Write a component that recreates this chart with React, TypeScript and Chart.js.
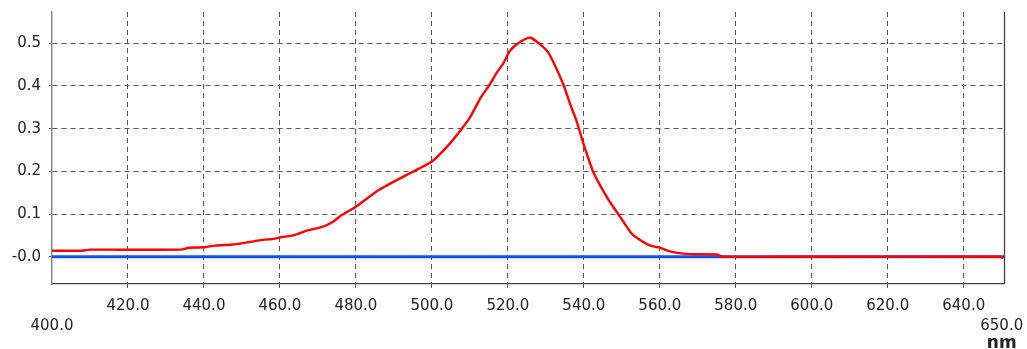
import React, { useEffect, useRef } from "react";
import { Chart, registerables } from "chart.js";

Chart.register(...registerables);

const wavelengths = [
  400, 408, 410, 434, 436, 440, 443, 447, 449, 451, 456, 458, 460, 464, 467, 471, 474, 476, 480,
  486, 493, 500, 504, 507, 510, 513, 515, 517, 519, 520.5, 523, 526, 530.5, 534.5, 536.5, 538,
  540, 542.5, 546.5, 549.5, 552.5, 555, 557.5, 560, 562, 564.5, 568, 575, 576.5, 600, 649.5, 650.4,
];
const redValues = [
  0.014, 0.014, 0.0165, 0.0165, 0.021, 0.022, 0.026, 0.028, 0.03, 0.033, 0.04, 0.041, 0.045,
  0.051, 0.061, 0.069, 0.082, 0.096, 0.117, 0.156, 0.19, 0.223, 0.258, 0.29, 0.326, 0.375, 0.4,
  0.43, 0.456, 0.482, 0.502, 0.513, 0.48, 0.406, 0.355, 0.32, 0.262, 0.198, 0.133, 0.094, 0.055,
  0.038, 0.026, 0.021, 0.014, 0.009, 0.006, 0.005, 0.0, 0.0, 0.0, -0.003,
];
const baselineX = [400, 650.6];
const baselineValues = [0, 0];

const xTickValues = [420, 440, 460, 480, 500, 520, 540, 560, 580, 600, 620, 640];
const yTickValues = [0, 0.1, 0.2, 0.3, 0.4, 0.5];
const edgeLabels = [
  { value: 400, text: "400.0" },
  { value: 650, text: "650.0" },
];
const unitLabel = "nm";

export default function App() {
  const ref = useRef<HTMLCanvasElement | null>(null);

  useEffect(() => {
    if (!ref.current) return;
    const extras = {
      id: "extras",
      afterDraw(chart: any) {
        const ctx = chart.ctx;
        const xs = chart.scales.x;
        const { top, bottom, right } = chart.chartArea;
        ctx.save();
        ctx.strokeStyle = "#444";
        ctx.lineWidth = 1.3;
        ctx.beginPath();
        ctx.moveTo(right + 0.5, top);
        ctx.lineTo(right + 0.5, bottom);
        ctx.stroke();
        ctx.fillStyle = "#222";
        ctx.font = '15px "DejaVu Sans"';
        ctx.textAlign = "center";
        ctx.textBaseline = "alphabetic";
        for (const l of edgeLabels) {
          ctx.fillText(l.text, xs.getPixelForValue(l.value), 330);
        }
        ctx.font = 'bold 17px "DejaVu Sans"';
        ctx.fillText(unitLabel, xs.getPixelForValue(650), 348);
        ctx.restore();
      },
    };

    const chart = new Chart(ref.current, {
      type: "line",
      data: {
        datasets: [
          {
            data: wavelengths.map((x, i) => ({ x, y: redValues[i] })),
            borderColor: "#ff0000",
            borderWidth: 2.4,
            pointRadius: 0,
            tension: 0.2,
            order: 0,
          },
          {
            data: baselineX.map((x, i) => ({ x, y: baselineValues[i] })),
            borderColor: "#1450f0",
            borderWidth: 3,
            pointRadius: 0,
            order: 1,
          },
        ],
      },
      options: {
        animation: false,
        responsive: false,
        maintainAspectRatio: false,
        layout: { padding: { left: 0, top: 12, right: 23, bottom: 0 } },
        plugins: { legend: { display: false }, tooltip: { enabled: false } },
        scales: {
          x: {
            type: "linear",
            min: 400,
            max: 650.6,
            afterBuildTicks: (s: any) => {
              s.ticks = xTickValues.map((v) => ({ value: v }));
            },
            afterFit: (s: any) => {
              s.height = 65;
              s.paddingLeft = 0;
              s.paddingRight = 0;
            },
            ticks: {
              autoSkip: false,
              maxRotation: 0,
              color: "#222",
              font: { family: "DejaVu Sans", size: 15 },
              padding: 9,
              callback: (v: any) => Number(v).toFixed(1),
            },
            grid: {
              color: "#555",
              lineWidth: 1,
              tickLength: 4,
              tickColor: "#555",
            },
            border: { display: true, color: "#444", width: 1.3, dash: [5, 4] },
          },
          y: {
            type: "linear",
            min: -0.064,
            max: 0.5733,
            afterBuildTicks: (s: any) => {
              s.ticks = yTickValues.map((v) => ({ value: v }));
            },
            afterFit: (s: any) => {
              s.width = 52;
              s.paddingTop = 0;
              s.paddingBottom = 0;
            },
            ticks: {
              color: "#222",
              font: { family: "DejaVu Sans", size: 15 },
              padding: 8,
              callback: (v: any) => (Number(v) === 0 ? "-0.0" : Number(v).toFixed(1)),
            },
            grid: {
              color: "#555",
              lineWidth: 1,
              tickLength: 3,
              tickColor: "#555",
            },
            border: { display: true, color: "#888", width: 1.5, dash: [5, 4] },
          },
        },
      },
      plugins: [extras],
    } as any);
    return () => chart.destroy();
  }, []);

  return (
    <div style={{ position: "fixed", left: 0, top: 0, width: 1027, height: 349, background: "#fff" }}>
      <canvas ref={ref} width={1027} height={349} style={{ width: 1027, height: 349 }} />
    </div>
  );
}
